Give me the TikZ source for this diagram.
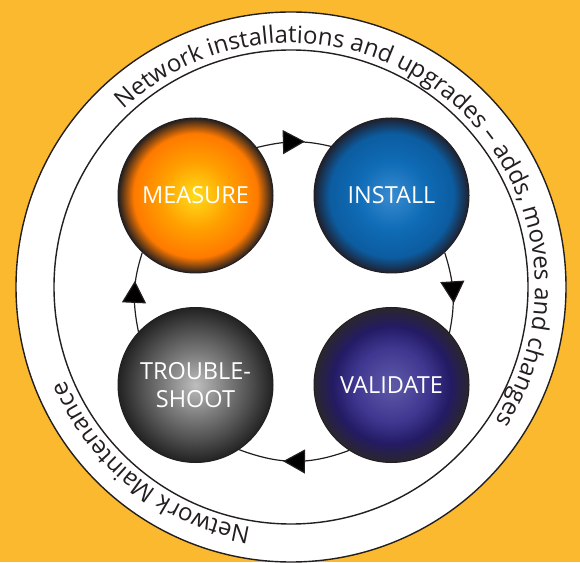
\documentclass[tikz,border=0pt]{standalone}
\usepackage{fontspec}
\setmainfont{Open Sans}
\usetikzlibrary{arrows.meta,decorations.markings,decorations.text,positioning}
\definecolor{bgorange}{HTML}{FBB92F}
\definecolor{inkdark}{HTML}{231F20}
\newcommand{\ringfont}{\fontsize{24}{28}\selectfont}
\newcommand{\ballfont}{\fontsize{23.5}{28}\selectfont}
\pgfdeclareradialshading{measureball}{\pgfpoint{0bp}{0bp}}{color(0bp)=(yellow!70!orange!90!white); color(11bp)=(orange!75!yellow); color(20bp)=(orange!90!red!95!yellow); color(25bp)=(inkdark); color(50bp)=(inkdark)}
\pgfdeclareradialshading{installball}{\pgfpoint{0bp}{0bp}}{color(0bp)=(rgb,255:red,58;green,139;blue,208); color(11bp)=(rgb,255:red,15;green,108;blue,182); color(20bp)=(rgb,255:red,12;green,92;blue,160); color(25bp)=(rgb,255:red,30;green,33;blue,48); color(50bp)=(rgb,255:red,30;green,33;blue,48)}
\pgfdeclareradialshading{validateball}{\pgfpoint{0bp}{0bp}}{color(0bp)=(rgb,255:red,95;green,90;blue,168); color(12bp)=(rgb,255:red,63;green,55;blue,144); color(19bp)=(rgb,255:red,35;green,27;blue,100); color(25bp)=(rgb,255:red,42;green,38;blue,46); color(50bp)=(rgb,255:red,42;green,38;blue,46)}
\pgfdeclareradialshading{troubleball}{\pgfpoint{0bp}{0bp}}{color(0bp)=(rgb,255:red,190;green,190;blue,190); color(10bp)=(rgb,255:red,125;green,125;blue,125); color(18bp)=(rgb,255:red,78;green,78;blue,78); color(25bp)=(rgb,255:red,34;green,34;blue,34); color(50bp)=(rgb,255:red,34;green,34;blue,34)}
\tikzstyle{ball}=[circle,draw=inkdark,line width=1pt,minimum size=155pt,inner sep=0pt,text=white,font=\ballfont,align=center,shade]
\tikzstyle{cyc}=[draw=inkdark,line width=1.2pt,postaction={decorate},decoration={markings,mark=at position 0.5 with {\arrow[xshift=11pt]{>}}}]
\tikzstyle{ringline}=[draw=inkdark,line width=1.4pt]

\begin{document}
\begin{tikzpicture}[
      x=1pt,y=1pt,
      >={Triangle[length=22pt,width=24pt]}
    ]
     \useasboundingbox (0,0) rectangle (580,562);
     \fill[bgorange] (0,0) rectangle (580,562);

     % outer ring
     \coordinate (o) at (291,275);
     \filldraw[ringline,fill=white] (o) circle[radius=275];
     \draw[ringline] (o) circle[radius=237];

     \path[decorate,decoration={text along path,text color=inkdark,text align=center,
        text={|\ringfont|Network installations and upgrades – adds, moves and changes}}]
        (o) ++(132:244) arc[start angle=132,end angle=-32,radius=244];
     \path[decorate,decoration={text along path,text color=inkdark,text align=center,
        text={|\ringfont|Network Maintenance}}]
        (o) ++(-100:244) arc[start angle=-100,end angle=-157,radius=244];

     % the four steps
     \node [ball,shading=measureball] (m) at (195.5,366.5) {MEASURE};
     \node [ball,shading=installball] (i) [node distance=196pt,right of=m] {INSTALL};
     \node [ball,shading=validateball] (v) [node distance=189.5pt,below of=i] {VALIDATE};
     \node [ball,shading=troubleball] (t) [node distance=196pt,left of=v] {TROUBLE-\\SHOOT};

      \draw[cyc] (m.38.3) to[out=13.6,in=166.4] (i.141.7);
      \draw[cyc] (i.-47.6) to[out=-72.4,in=78.4] (v.42.5);
      \draw[cyc] (v.-123.6) to[out=200.5,in=-20.5] (t.-56.4);
      \draw[cyc] (t.137.5) to[out=101.6,in=252.1] (m.227.4);
    \end{tikzpicture}
\end{document}
